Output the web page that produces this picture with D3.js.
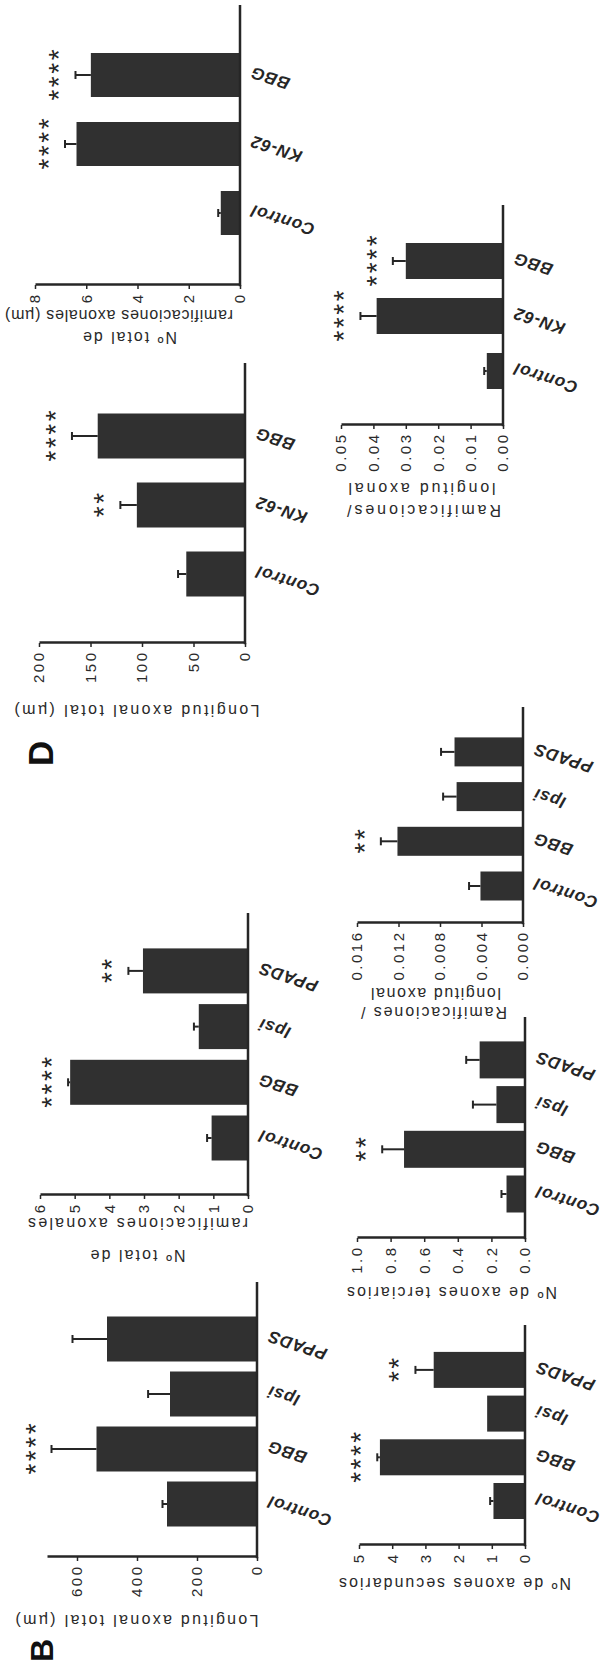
<!DOCTYPE html>
<html>
<head>
<meta charset="utf-8">
<script src="https://cdn.jsdelivr.net/npm/d3@7"></script>
<style>
  html, body { margin: 0; padding: 0; background: #fff; }
  svg { display: block; }
</style>
</head>
<body>
<svg id="fig" width="608" height="1668"></svg>
<script>
// ---------------- DATA ----------------
const catsB = ["Control", "BBG", "Ipsi", "PPADS"];
const catsD = ["Control", "KN-62", "BBG"];

// Panel B
const bLongitud = [300, 535, 290, 500];
const bLongitudErr = [15, 150, 73, 115];
const bLongitudSig = ["", "****", "", ""];
const bLongitudTicks = [0, 200, 400, 600];

const bRamTotal = [1.05, 5.13, 1.42, 3.03];
const bRamTotalErr = [0.13, 0.06, 0.14, 0.42];
const bRamTotalSig = ["", "****", "", "**"];
const bRamTotalTicks = [0, 1, 2, 3, 4, 5, 6];

const bSecundarios = [0.95, 4.37, 1.14, 2.75];
const bSecundariosErr = [0.1, 0.08, 0, 0.55];
const bSecundariosSig = ["", "****", "", "**"];
const bSecundariosTicks = [0, 1, 2, 3, 4, 5];

const bTerciarios = [0.11, 0.72, 0.17, 0.27];
const bTerciariosErr = [0.03, 0.13, 0.14, 0.08];
const bTerciariosSig = ["", "**", "", ""];
const bTerciariosTicks = [0, 0.2, 0.4, 0.6, 0.8, 1.0];

const bRamLong = [0.0041, 0.0121, 0.0064, 0.0066];
const bRamLongErr = [0.0011, 0.0016, 0.0013, 0.0013];
const bRamLongSig = ["", "**", "", ""];
const bRamLongTicks = [0, 0.004, 0.008, 0.012, 0.016];

// Panel D
const dLongitud = [57, 105, 143];
const dLongitudErr = [8, 16, 25];
const dLongitudSig = ["", "**", "****"];
const dLongitudTicks = [0, 50, 100, 150, 200];

const dRamTotal = [0.75, 6.38, 5.82];
const dRamTotalErr = [0.1, 0.45, 0.6];
const dRamTotalSig = ["", "****", "****"];
const dRamTotalTicks = [0, 2, 4, 6, 8];

const dRamLong = [0.005, 0.039, 0.030];
const dRamLongErr = [0.0008, 0.005, 0.004];
const dRamLongSig = ["", "****", "****"];
const dRamLongTicks = [0, 0.01, 0.02, 0.03, 0.04, 0.05];

// ---------------- LAYOUT (original landscape figure, rotated onto page) ----------------
const FONT = "'Liberation Sans', Arial, Helvetica, sans-serif";
const INK = "#262626";
const BAR = "#303030";

const charts = [
  { cats: catsB, vals: bLongitud, errs: bLongitudErr, sig: bLongitudSig, ticks: bLongitudTicks, fmt: d3.format("d"),
    max: 700, ax: 111, axEnd: 386, base: 257, top: 47, c0: 164, step: 55, bw: 45,
    titles: [{ t: "Longitud axonal total (µm)", x: 48, yc: 137, len: 243 }] },
  { cats: catsB, vals: bRamTotal, errs: bRamTotalErr, sig: bRamTotalSig, ticks: bRamTotalTicks, fmt: d3.format("d"),
    max: 6, ax: 473, axEnd: 755, base: 248, top: 40, c0: 530, step: 55.7, bw: 45,
    titles: [{ t: "Nº total de", x: 413, yc: 138, len: 95 }, { t: "ramificaciones axonales", x: 445, yc: 138, len: 220 }] },
  { cats: catsB, vals: bSecundarios, errs: bSecundariosErr, sig: bSecundariosSig, ticks: bSecundariosTicks, fmt: d3.format("d"),
    max: 5, ax: 123, axEnd: 343, base: 525, top: 359, c0: 167, step: 43.7, bw: 36,
    titles: [{ t: "Nº de axones secundarios", x: 85, yc: 455, len: 232 }] },
  { cats: catsB, vals: bTerciarios, errs: bTerciariosErr, sig: bTerciariosSig, ticks: bTerciariosTicks, fmt: d3.format(".1f"),
    max: 1.0, ax: 430, axEnd: 651, base: 525, top: 357, c0: 474, step: 44.7, bw: 37,
    titles: [{ t: "Nº de axones terciarios", x: 376, yc: 452, len: 210 }] },
  { cats: catsB, vals: bRamLong, errs: bRamLongErr, sig: bRamLongSig, ticks: bRamLongTicks, fmt: d3.format(".3f"),
    max: 0.016, ax: 745, axEnd: 961, base: 523, top: 357, c0: 782, step: 44.7, bw: 29,
    titles: [{ t: "Ramificaciones /", x: 656, yc: 434, len: 146 }, { t: "longitud axonal", x: 675, yc: 436, len: 130 }] },
  { cats: catsD, vals: dLongitud, errs: dLongitudErr, sig: dLongitudSig, ticks: dLongitudTicks, fmt: d3.format("d"),
    max: 200, ax: 1025, axEnd: 1305, base: 245, top: 39, c0: 1094, step: 69, bw: 45,
    titles: [{ t: "Longitud axonal total (µm)", x: 958, yc: 137, len: 245 }] },
  { cats: catsD, vals: dRamTotal, errs: dRamTotalErr, sig: dRamTotalSig, ticks: dRamTotalTicks, fmt: d3.format("d"),
    max: 8, ax: 1383, axEnd: 1663, base: 240, top: 35, c0: 1455, step: 69, bw: 44,
    titles: [{ t: "Nº total de", x: 1331, yc: 130, len: 94 }, { t: "ramificaciones axonales (µm)", x: 1353, yc: 119, len: 228 }] },
  { cats: catsD, vals: dRamLong, errs: dRamLongErr, sig: dRamLongSig, ticks: dRamLongTicks, fmt: d3.format(".2f"),
    max: 0.05, ax: 1243, axEnd: 1463, base: 503, top: 341, c0: 1297, step: 55, bw: 36,
    titles: [{ t: "Ramificaciones/", x: 1158, yc: 424, len: 154 }, { t: "longitud axonal", x: 1180, yc: 422, len: 147 }] }
];

const panels = [ { t: "B", x: 6, y: 53, fs: 32 }, { t: "D", x: 902, y: 53, fs: 35 } ];

// ---------------- DRAW ----------------
const svg = d3.select("#fig");
svg.append("rect").attr("width", 608).attr("height", 1668).attr("fill", "#fff");
const root = svg.append("g").attr("transform", "translate(0,1668) rotate(-90)");

function drawChart(c) {
  const g = root.append("g");
  const y = d3.scaleLinear().domain([0, c.max]).range([c.base, c.top]);
  const pin = 1 - c.bw / c.step;
  const r0 = c.c0 - c.step / 2;
  const x = d3.scaleBand().domain(c.cats)
    .range([r0, r0 + c.cats.length * c.step])
    .paddingInner(pin).paddingOuter(pin / 2);
  const cx = d => x(d) + x.bandwidth() / 2;

  // bars
  g.selectAll("rect.bar").data(c.cats).join("rect")
    .attr("class", "bar")
    .attr("x", d => x(d))
    .attr("y", (d, i) => y(c.vals[i]))
    .attr("width", x.bandwidth())
    .attr("height", (d, i) => c.base - y(c.vals[i]))
    .attr("fill", BAR);

  // error bars (upper only, Prism style)
  const eg = g.append("g").attr("stroke", INK).attr("stroke-width", 2);
  c.cats.forEach((d, i) => {
    if (!(c.errs[i] > 0)) return;
    const yt = y(c.vals[i] + c.errs[i]);
    eg.append("line").attr("x1", cx(d)).attr("x2", cx(d)).attr("y1", y(c.vals[i])).attr("y2", yt);
    eg.append("line").attr("x1", cx(d) - 4).attr("x2", cx(d) + 4).attr("y1", yt).attr("y2", yt);
  });

  // significance stars
  c.cats.forEach((d, i) => {
    if (!c.sig[i]) return;
    const yc = y(c.vals[i] + c.errs[i]) - 23;
    g.append("text")
      .attr("x", cx(d)).attr("y", yc + 16)
      .attr("dx", 1.25)
      .attr("text-anchor", "middle")
      .attr("font-family", FONT).attr("font-size", 28)
      .attr("letter-spacing", 2.5)
      .attr("fill", INK)
      .text(c.sig[i]);
  });

  // value axis
  const ya = g.append("g").attr("transform", `translate(${c.ax},0)`)
    .call(d3.axisLeft(y).tickValues(c.ticks).tickFormat(c.fmt).tickSize(4).tickSizeOuter(0).tickPadding(6));
  ya.attr("font-family", FONT).attr("font-size", 15);
  ya.select(".domain").attr("stroke", INK).attr("stroke-width", 2.5);
  ya.selectAll(".tick line").attr("stroke", INK).attr("stroke-width", 1.5);
  ya.selectAll(".tick text").attr("fill", "#2a2a2a").attr("letter-spacing", 2.5).attr("dx", 2.5);

  // category baseline
  g.append("line")
    .attr("x1", c.ax - 1.25).attr("x2", c.axEnd)
    .attr("y1", c.base).attr("y2", c.base)
    .attr("stroke", INK).attr("stroke-width", 2.5);

  // category labels
  const xa = g.append("g").attr("transform", `translate(0,${c.base})`)
    .call(d3.axisBottom(x).tickSize(0).tickPadding(0));
  xa.select(".domain").remove();
  xa.attr("font-family", FONT).attr("font-size", 17);
  xa.selectAll(".tick text")
    .attr("y", 0).attr("x", 0).attr("dy", "0.35em")
    .attr("text-anchor", "end")
    .attr("transform", "translate(3,11) rotate(-72)")
    .attr("font-weight", "bold").attr("font-style", "italic")
    .attr("letter-spacing", 0.8)
    .attr("fill", INK);

  // axis titles
  c.titles.forEach(tt => {
    g.append("text")
      .attr("transform", `translate(${tt.x},${tt.yc}) rotate(-90)`)
      .attr("text-anchor", "middle")
      .attr("dominant-baseline", "central")
      .attr("font-family", FONT).attr("font-size", 16)
      .attr("textLength", tt.len).attr("lengthAdjust", "spacing")
      .attr("fill", "#2a2a2a")
      .text(tt.t);
  });
}

charts.forEach(drawChart);

panels.forEach(p => {
  root.append("text")
    .attr("x", p.x).attr("y", p.y)
    .attr("font-family", FONT).attr("font-weight", "bold").attr("font-size", p.fs)
    .attr("fill", "#111")
    .text(p.t);
});
</script>
</body>
</html>
